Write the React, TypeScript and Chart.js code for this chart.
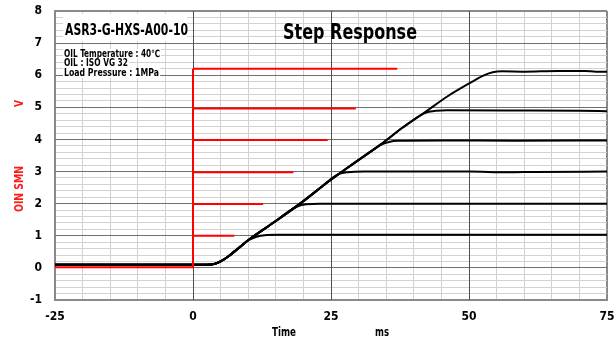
import React, { useEffect, useRef } from 'react';
import { Chart, registerables } from 'chart.js';

Chart.register(...registerables);

const FONT_FAMILY = "'Liberation Sans Narrow', 'DejaVu Sans Condensed', 'Noto Sans', sans-serif";

// ---- axes ----
const TIME_MIN = -25;
const TIME_MAX = 75;
const TIME_LABEL_STEP = 25;
const TIME_GRID_STEP = 5;
const VOLT_MIN = -1;
const VOLT_MAX = 8;
const VOLT_GRID_STEP = 0.2;

// ---- texts ----
const CHART_TITLE = 'Step Response';
const MODEL_LABEL = 'ASR3-G-HXS-A00-10';
const CONDITION_LINES = ['OIL Temperature : 40℃', 'OIL : ISO VG 32', 'Load Pressure : 1MPa'];
const X_TITLE = 'Time';
const X_UNIT = 'ms';
const Y_TITLE = 'OIN SMN';
const Y_UNIT = 'V';

// ---- input command (red) ----
const COMMAND_BASE_T = [-25, 0, 0];
const COMMAND_BASE_V = [0.02, 0.02, 6.2];
const COMMAND_LEVELS = [1.0, 1.99, 2.98, 3.98, 4.96, 6.2];
const COMMAND_END_T = [7.5, 12.7, 18.2, 24.4, 29.5, 37.0];

// ---- responses (black) ----
const RAMP: number[][] = [
  [-25, 0.1], [2.5, 0.1], [4, 0.13], [5, 0.2], [6.5, 0.37], [8, 0.58], [10.3, 0.9],
  [15, 1.46], [19.4, 2.0], [24.8, 2.72], [29, 3.24], [33.9, 3.83], [38, 4.37],
  [42.3, 4.88], [46, 5.33], [50.2, 5.76], [52.5, 5.98], [54.3, 6.09],
];
const RESP_1_TAIL: number[][] = [[10, 0.86], [11.5, 0.97], [13, 1.02], [15, 1.03], [75, 1.03]];
const RESP_2_TAIL: number[][] = [[17.5, 1.78], [19, 1.92], [20.5, 1.98], [23, 2.0], [75, 2.0]];
const RESP_3_TAIL: number[][] = [[23.5, 2.56], [25.2, 2.8], [26.5, 2.93], [28, 2.98], [31, 3.0], [50, 3.0], [57, 2.98], [62, 2.99], [75, 3.0]];
const RESP_4_TAIL: number[][] = [[32.5, 3.66], [34, 3.83], [35.5, 3.92], [37, 3.96], [45, 3.97], [58, 3.96], [75, 3.97]];
const RESP_5_TAIL: number[][] = [[41, 4.73], [42.5, 4.85], [44, 4.89], [46, 4.91], [60, 4.9], [70, 4.89], [75, 4.88]];
const RESP_6_TAIL: number[][] = [[56, 6.12], [60, 6.11], [66, 6.13], [71, 6.13], [73, 6.11], [75, 6.11]];
const RAMP_CUT = [6, 8, 9, 11, 13, 18];
const RESP_TAILS = [RESP_1_TAIL, RESP_2_TAIL, RESP_3_TAIL, RESP_4_TAIL, RESP_5_TAIL, RESP_6_TAIL];

const RED = '#ff0000';
const BLACK = '#000000';
const MAJOR_V_GRID = '#505050';
const MAJOR_H_GRID = '#707070';

const toPts = (pairs: number[][]) => pairs.map(([x, y]) => ({ x, y }));
const isMult = (v: number, s: number) => Math.abs(v / s - Math.round(v / s)) < 1e-6;

function fitText(ctx: CanvasRenderingContext2D, text: string, x: number, y: number, width: number) {
  ctx.textAlign = 'left';
  (ctx as any).letterSpacing = '0px';
  const w = ctx.measureText(text).width;
  const n = Array.from(text).length;
  if (w > width || n < 2) {
    ctx.save();
    ctx.translate(x, y);
    ctx.scale(width / w, 1);
    ctx.fillText(text, 0, 0);
    ctx.restore();
    return;
  }
  (ctx as any).letterSpacing = (width - w) / (n - 1) + 'px';
  ctx.fillText(text, x, y);
  (ctx as any).letterSpacing = '0px';
}

const noPad = (s: any) => {
  s.paddingTop = 0;
  s.paddingBottom = 0;
  s.paddingLeft = 0;
  s.paddingRight = 0;
};

const textPlugin = {
  id: 'customText',
  beforeDraw(chart: any) {
    const ctx = chart.ctx as CanvasRenderingContext2D;
    ctx.save();
    ctx.fillStyle = '#ffffff';
    ctx.fillRect(0, 0, chart.width, chart.height);
    ctx.restore();
  },
  beforeDatasetsDraw(chart: any) {
    // re-stroke major grid lines so the minor lines do not break them
    const ctx = chart.ctx as CanvasRenderingContext2D;
    const xs = chart.scales.x;
    const ys = chart.scales.y;
    const area = chart.chartArea;
    ctx.save();
    ctx.setLineDash([]);
    ctx.lineWidth = 1;
    ctx.strokeStyle = MAJOR_H_GRID;
    ys.ticks.forEach((t: any) => {
      if (t.value > VOLT_MIN + 1e-6 && t.value < VOLT_MAX - 1e-6 && isMult(t.value, 1)) {
        const py = Math.round(ys.getPixelForValue(t.value) - 0.5) + 0.5;
        ctx.beginPath();
        ctx.moveTo(area.left, py);
        ctx.lineTo(area.right, py);
        ctx.stroke();
      }
    });
    ctx.strokeStyle = MAJOR_V_GRID;
    xs.ticks.forEach((t: any) => {
      if (t.value > TIME_MIN && t.value < TIME_MAX && isMult(t.value, TIME_LABEL_STEP)) {
        const px = Math.round(xs.getPixelForValue(t.value) - 0.5) + 0.5;
        ctx.beginPath();
        ctx.moveTo(px, area.top);
        ctx.lineTo(px, area.bottom);
        ctx.stroke();
      }
    });
    ctx.restore();
  },
  afterDraw(chart: any) {
    const ctx = chart.ctx as CanvasRenderingContext2D;
    ctx.save();
    ctx.textBaseline = 'alphabetic';

    // model label box
    ctx.fillStyle = '#ffffff';
    ctx.fillRect(63, 14, 124, 27);
    ctx.fillStyle = '#000';
    ctx.font = `bold 16px ${FONT_FAMILY}`;
    fitText(ctx, MODEL_LABEL, 65, 35, 123);

    // conditions
    const baselines = [57, 66, 76];
    const widths = [96, 64, 95];
    ctx.font = `bold 10px ${FONT_FAMILY}`;
    CONDITION_LINES.forEach((line, i) => {
      ctx.fillStyle = '#ffffff';
      ctx.fillRect(63, baselines[i] - 8, widths[i] + 2, 10);
      ctx.fillStyle = '#000';
      fitText(ctx, line, 64, baselines[i], widths[i]);
    });

    // title
    ctx.font = `bold 21px ${FONT_FAMILY}`;
    ctx.fillStyle = '#000';
    fitText(ctx, CHART_TITLE, 283, 39, 134);

    // x title
    ctx.font = `bold 13px ${FONT_FAMILY}`;
    fitText(ctx, X_TITLE, 272, 336, 24);
    fitText(ctx, X_UNIT, 375, 336, 14);

    // y title (rotated)
    ctx.fillStyle = '#ff1a1a';
    ctx.font = `bold 12px ${FONT_FAMILY}`;
    ctx.save();
    ctx.translate(23, 212);
    ctx.rotate(-Math.PI / 2);
    fitText(ctx, Y_TITLE, 0, 0, 46);
    ctx.restore();
    ctx.save();
    ctx.translate(23, 107);
    ctx.rotate(-Math.PI / 2);
    fitText(ctx, Y_UNIT, 0, 0, 7);
    ctx.restore();

    ctx.restore();
  },
};

export default function App() {
  const ref = useRef<HTMLCanvasElement | null>(null);

  useEffect(() => {
    document.body.style.margin = '0';
    const canvas = ref.current;
    if (!canvas) return;

    const datasets: any[] = [];
    datasets.push({
      data: COMMAND_BASE_T.map((t, i) => ({ x: t, y: COMMAND_BASE_V[i] })),
      borderColor: RED,
      borderWidth: 2,
    });
    COMMAND_LEVELS.forEach((lv, i) => {
      datasets.push({
        data: [{ x: 0, y: lv }, { x: COMMAND_END_T[i], y: lv }],
        borderColor: RED,
        borderWidth: 2,
      });
    });
    RESP_TAILS.forEach((tail, i) => {
      datasets.push({
        data: toPts([...RAMP.slice(0, RAMP_CUT[i]), ...tail]),
        borderColor: BLACK,
        borderWidth: 2,
        cubicInterpolationMode: 'monotone',
      });
    });

    const tickFont = { family: FONT_FAMILY, size: 12, weight: 'bold' as const };

    const chart = new Chart(canvas, {
      type: 'line',
      data: { datasets },
      plugins: [textPlugin],
      options: {
        animation: false,
        responsive: false,
        devicePixelRatio: 1,
        layout: { autoPadding: false, padding: { top: 11, right: 9, left: 0, bottom: 0 } },
        elements: {
          point: { radius: 0, hoverRadius: 0 },
          line: { tension: 0, borderJoinStyle: 'miter', borderCapStyle: 'butt', fill: false },
        },
        plugins: { legend: { display: false }, tooltip: { enabled: false }, title: { display: false } },
        events: [],
        scales: {
          x: {
            type: 'linear',
            min: TIME_MIN,
            max: TIME_MAX,
            afterFit: (s: any) => { s.height = 40; noPad(s); },
            ticks: {
              stepSize: TIME_GRID_STEP,
              maxTicksLimit: 1000,
              autoSkip: false,
              maxRotation: 0,
              minRotation: 0,
              padding: 10,
              color: '#000',
              font: tickFont,
              callback: (v: any) => (isMult(Number(v), TIME_LABEL_STEP) ? String(Math.round(Number(v))) : ''),
            },
            grid: {
              drawTicks: false,
              color: (c: any) => {
                const v = c.tick ? c.tick.value : 0;
                if (v === TIME_MIN || v === TIME_MAX) return '#8a8a8a';
                return isMult(v, TIME_LABEL_STEP) ? MAJOR_V_GRID : '#d2d2d2';
              },
              lineWidth: (c: any) => {
                const v = c.tick ? c.tick.value : 0;
                return v === TIME_MIN || v === TIME_MAX ? 2 : 1;
              },
            },
            border: { display: true, color: '#8a8a8a', width: 2 },
          },
          y: {
            type: 'linear',
            min: VOLT_MIN,
            max: VOLT_MAX,
            afterFit: (s: any) => { s.width = 55; noPad(s); },
            ticks: {
              stepSize: VOLT_GRID_STEP,
              maxTicksLimit: 1000,
              autoSkip: false,
              padding: 13,
              color: '#000',
              font: tickFont,
              callback: (v: any) => (isMult(Number(v), 1) ? String(Math.round(Number(v))) : ''),
            },
            grid: {
              drawTicks: false,
              color: (c: any) => {
                const v = c.tick ? c.tick.value : 0;
                if (Math.abs(v - VOLT_MIN) < 1e-6 || Math.abs(v - VOLT_MAX) < 1e-6) return '#8a8a8a';
                return isMult(v, 1) ? MAJOR_H_GRID : '#d2d2d2';
              },
              lineWidth: (c: any) => {
                const v = c.tick ? c.tick.value : 0;
                return Math.abs(v - VOLT_MIN) < 1e-6 || Math.abs(v - VOLT_MAX) < 1e-6 ? 2 : 1;
              },
            },
            border: { display: true, color: '#8a8a8a', width: 2 },
          },
        },
      } as any,
    });

    return () => chart.destroy();
  }, []);

  return (
    <div style={{ position: 'fixed', left: 0, top: 0, width: 616, height: 340, background: '#fff' }}>
      <canvas ref={ref} width={616} height={340} style={{ width: 616, height: 340, display: 'block' }} />
    </div>
  );
}
